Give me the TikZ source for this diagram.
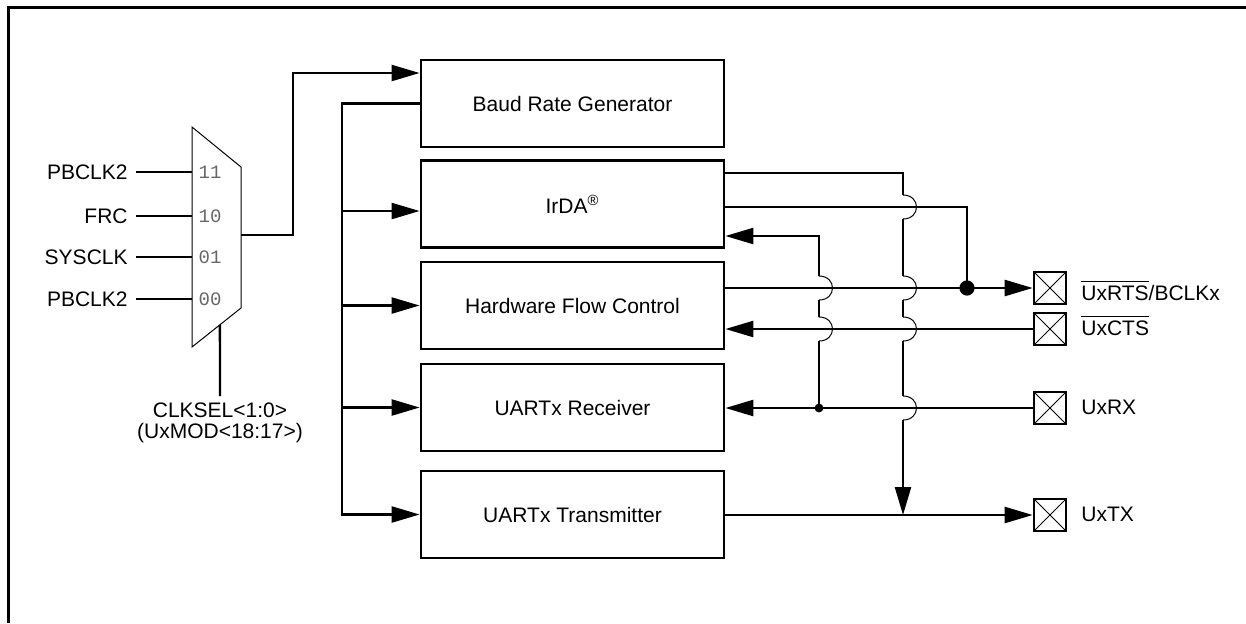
\documentclass[tikz,border=0pt]{standalone}
\usepackage{fontspec}
\setmainfont{Liberation Sans}
\newfontfamily\selfont{Liberation Mono}
\usetikzlibrary{positioning,calc,arrows.meta}
\newcommand{\ovl}[1]{\leavevmode\setbox0\hbox{#1}\rlap{\rule[\dimexpr\ht0+1.6pt\relax]{\wd0}{0.6pt}}\box0}

\begin{document}
\begin{tikzpicture}[x=0.5pt,y=-0.5pt,font=\fontsize{10.5}{10.5}\selectfont,
  blk/.style={draw,line width=1.4pt,minimum width=151.5pt,minimum height=43.5pt,inner sep=0pt},
  wire/.style={line width=1.2pt},
  arr/.style={wire,-{Triangle[length=14pt,width=8pt]}},
  hopl/.style={line width=0.5pt},
  pad/.style={draw,line width=1.3pt,minimum size=16pt,inner sep=0pt,
    path picture={\draw[line width=0.5pt] (path picture bounding box.south west) -- (path picture bounding box.north east)
      (path picture bounding box.north west) -- (path picture bounding box.south east);}},
  sel/.style={font=\selfont\fontsize{9.5}{10}\selectfont,text=black!60,inner sep=0pt}]
\useasboundingbox (0,0) rectangle (1246,623);
\draw[line width=1.4pt] (8.5,623) -- (8.5,7.5) -- (1246,7.5);
% clock select mux
\coordinate (m1) at (192,127); \coordinate (m2) at (241,167);
\coordinate (m3) at (241,308); \coordinate (m4) at (192,347);
\draw[line width=0.5pt] (m1) -- (m2) -- (m3) -- (m4) -- cycle;
\foreach \y/\t/\s/\n in {172/PBCLK2/11/a,216/FRC/10/b,257/SYSCLK/01/c,299/PBCLK2/00/d}{
  \node[anchor=east,inner xsep=4pt,inner ysep=0pt] (in\n) at (136,\y) {\t};
  \draw[wire] (in\n.east) -- (m1 |- in\n.east);
  \node[sel] (sel\n) at (210,\y) {\s};
}
\coordinate (mo) at (241,235);
\coordinate (mk) at (293,73);
\coordinate (ms) at ($(m3)!0.43!(m4)$);
\node[align=center,anchor=north,inner sep=3pt] (clk) at (220,396) {CLKSEL<1:0>\\(UxMOD<18:17>)};
\draw[wire] (ms) -- (clk.north);
% blocks
\foreach \n/\y/\t in {brg/103.5/Baud Rate Generator,irda/204/IrDA\textsuperscript{\textregistered},
    hfc/305.5/Hardware Flow Control,rx/407.5/UARTx Receiver,tx/514.5/UARTx Transmitter}
  \node[blk] (\n) at (572.5,\y) {\t};
\draw[arr] (mo) -| (mk) -- (brg.west |- mk);
% clock bus
\coordinate (bus) at (342,103.5);
\draw[arr] (brg.west) -- (bus) -- (bus |- tx.west) -- (tx.west);
\foreach \n/\d in {irda/-3.5pt,hfc/0pt,rx/0pt}{
  \coordinate (\n-in) at ([yshift=\d]\n.west);
  \draw[arr] (bus |- \n-in) -- (\n-in);
}
% pins
\foreach \n/\y in {p1/288,p2/329,p3/408,p4/515}
  \node[pad] (\n) at (1050,\y) {};
\foreach \n/\y/\t in {l1/300/{\ovl{UxRTS}/BCLKx},l2/335/{\ovl{UxCTS}},l3/414/UxRX,l4/521/UxTX}
  \node[anchor=base west,inner sep=0pt] (\n) at (1081,\y) {\t};
% pin side wiring
\coordinate (ja) at (903,173);
\coordinate (jb) at (967,207);
\coordinate (jc) at (819,236);
\coordinate (h1) at (ja |- jb); \coordinate (h2) at (ja |- p1);
\coordinate (h3) at (ja |- p2); \coordinate (h4) at (ja |- p3);
\coordinate (h5) at (jc |- p1); \coordinate (h6) at (jc |- p2);
\draw[wire] (irda.east |- jb) -- (jb) -- (jb |- p1);
\fill (jb |- p1) circle[radius=3.8pt];
\draw[arr] (hfc.east |- p1) -- (p1.west);
\draw[arr] (p2.west) -- (hfc.east |- p2);
\draw[arr] (p3.west) -- (rx.east |- p3);
\fill (jc |- p3) circle[radius=2.2pt];
\draw[arr] (tx.east |- p4) -- (p4.west);
\draw[wire] (irda.east |- ja) -- (ja) -- ($(h1)+(0,-12)$)
  ($(h1)+(0,12)$) -- ($(h2)+(0,-12)$)
  ($(h2)+(0,12)$) -- ($(h3)+(0,-12)$)
  ($(h3)+(0,12)$) -- ($(h4)+(0,-12)$);
\draw[arr] ($(h4)+(0,12)$) -- (ja |- p4);
\draw[wire] (jc |- p3) -- ($(h6)+(0,12)$) ($(h6)+(0,-12)$) -- ($(h5)+(0,12)$);
\draw[arr] ($(h5)+(0,-12)$) -- (jc) -- (irda.east |- jc);
\foreach \h in {h1,h2,h3,h4,h5,h6}
  \draw[hopl] ($(\h)+(0,-12)$) .. controls ($(\h)+(18,-12)$) and ($(\h)+(18,12)$) .. ($(\h)+(0,12)$);
\end{tikzpicture}
\end{document}
